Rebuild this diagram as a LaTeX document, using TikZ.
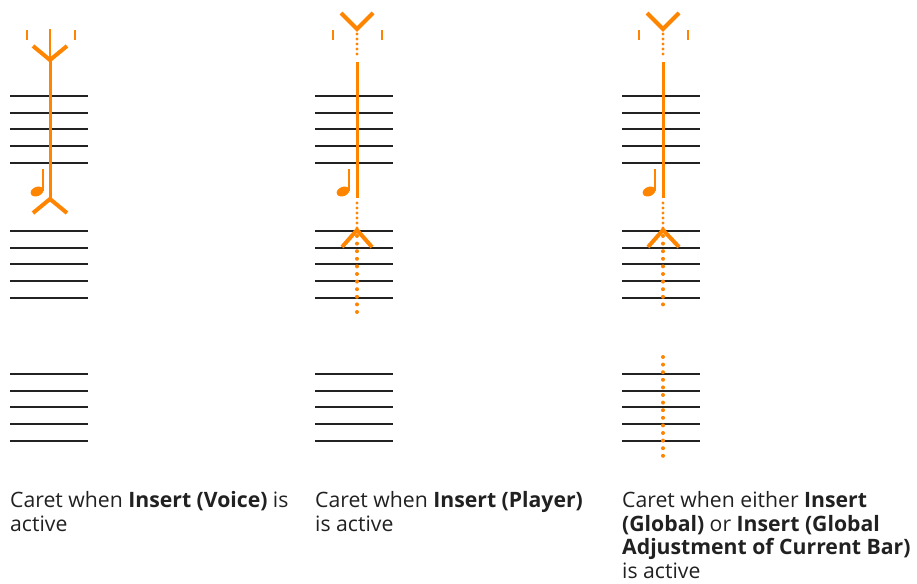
\documentclass[tikz,border=0pt]{standalone}
\usepackage{fontspec}
\setmainfont{Open Sans}
\definecolor{caretc}{RGB}{255,133,0}
\definecolor{stafc}{RGB}{34,34,34}
\begin{document}
\begin{tikzpicture}[x=1pt,y=-1pt,
  staffline/.style={draw=stafc,line width=2.4pt},
  tick/.style={draw=caretc,line width=2pt},
  thinbar/.style={draw=caretc,line width=2pt},
  thickbar/.style={draw=caretc,line width=3pt},
  chevron/.style={draw=caretc,line width=4pt,line join=miter},
  finedots/.style={draw=caretc,line width=3.4pt,line cap=round,dash pattern=on 0pt off 5pt},
  widedots/.style={draw=caretc,line width=4pt,line cap=round,dash pattern=on 0pt off 7.6pt},
  notehead/.style={fill=caretc,draw=none},
  notestem/.style={draw=caretc,line width=2.4pt},
  caption/.style={anchor=base west,inner sep=0pt,font=\fontsize{21.2}{24}\selectfont,text=black!87}]
\useasboundingbox (0,0) rectangle (917,583);

% staves
\foreach \sx in {10,315,622}{
  \foreach \sy in {96,231,374}{
    \foreach \k in {0,...,4}{
      \draw[staffline] (\sx,{round(\sy+16.67*\k)}) -- (\sx+77.5,{round(\sy+16.67*\k)});
    }
  }
}

% ---------- caret 1 (Insert Voice) ----------
\coordinate (a1top) at (50,29);
\coordinate (a1j) at (50,60);
\coordinate (a1l) at (33,46);
\coordinate (a1r) at (67,46);
\coordinate (a1b) at (50,199);
\coordinate (a1bl) at (33,213);
\coordinate (a1br) at (67,213);
\draw[tick] (27,30) -- (27,40);
\draw[tick] (75,30) -- (75,40);
\draw[thinbar] (a1top) -- (a1j);
\draw[chevron] (a1l) -- (a1j) -- (a1r);
\draw[thickbar] (a1j) -- (a1b);
\draw[chevron] (a1bl) -- (a1b) -- (a1br);
\fill[notehead] (37,191.5) ellipse[x radius=6.6pt,y radius=4.6pt,rotate=22];
\draw[notestem] (43,169) -- (43,191);

% ---------- caret 2 (Insert Player) ----------
\coordinate (b1v) at (357,29);
\coordinate (b1l) at (341,13);
\coordinate (b1r) at (373,13);
\coordinate (b1s) at (357,62);
\coordinate (b1e) at (357,198);
\coordinate (b1a) at (357,230);
\coordinate (b1al) at (342,247);
\coordinate (b1ar) at (372,247);
\coordinate (b1end) at (357,313);
\draw[tick] (333,30) -- (333,40);
\draw[tick] (382,30) -- (382,40);
\draw[chevron] (b1l) -- (b1v) -- (b1r);
\draw[finedots] (357,34) -- (357,58);
\draw[thickbar] (b1s) -- (b1e);
\draw[finedots] (357,203) -- (357,228);
\draw[widedots] (357,236) -- (b1end);
\draw[chevron] (b1al) -- (b1a) -- (b1ar);
\fill[notehead] (343,191.5) ellipse[x radius=6.6pt,y radius=4.6pt,rotate=22];
\draw[notestem] (349,169) -- (349,191);

% ---------- caret 3 (Insert Global) ----------
\coordinate (c1v) at (663,29);
\coordinate (c1l) at (647,13);
\coordinate (c1r) at (679,13);
\coordinate (c1s) at (663,62);
\coordinate (c1e) at (663,198);
\coordinate (c1a) at (663,230);
\coordinate (c1al) at (648,247);
\coordinate (c1ar) at (679,247);
\coordinate (c1end) at (663,305);
\coordinate (c2top) at (663,357);
\coordinate (c2end) at (663,456);
\draw[tick] (639,30) -- (639,40);
\draw[tick] (688,30) -- (688,40);
\draw[chevron] (c1l) -- (c1v) -- (c1r);
\draw[finedots] (663,34) -- (663,58);
\draw[thickbar] (c1s) -- (c1e);
\draw[finedots] (663,203) -- (663,228);
\draw[widedots] (663,236) -- (c1end);
\draw[chevron] (c1al) -- (c1a) -- (c1ar);
\draw[widedots] (c2top) -- (c2end);
\fill[notehead] (649,191.5) ellipse[x radius=6.6pt,y radius=4.6pt,rotate=22];
\draw[notestem] (655,169) -- (655,191);

% ---------- captions ----------
\node[caption] (t1a) at (10,507.5) {Caret when \textbf{Insert (Voice)} is};
\node[caption] (t1b) at (10,531) {active};
\node[caption] (t2a) at (315,507.5) {Caret when \textbf{Insert (Player)}};
\node[caption] (t2b) at (315,531) {is active};
\node[caption] (t3a) at (622,507.5) {Caret when either \textbf{Insert}};
\node[caption] (t3b) at (622,531) {\textbf{(Global)} or \textbf{Insert (Global}};
\node[caption] (t3c) at (622,554.5) {\textbf{Adjustment of Current Bar)}};
\node[caption] (t3d) at (622,578) {is active};
\end{tikzpicture}
\end{document}
